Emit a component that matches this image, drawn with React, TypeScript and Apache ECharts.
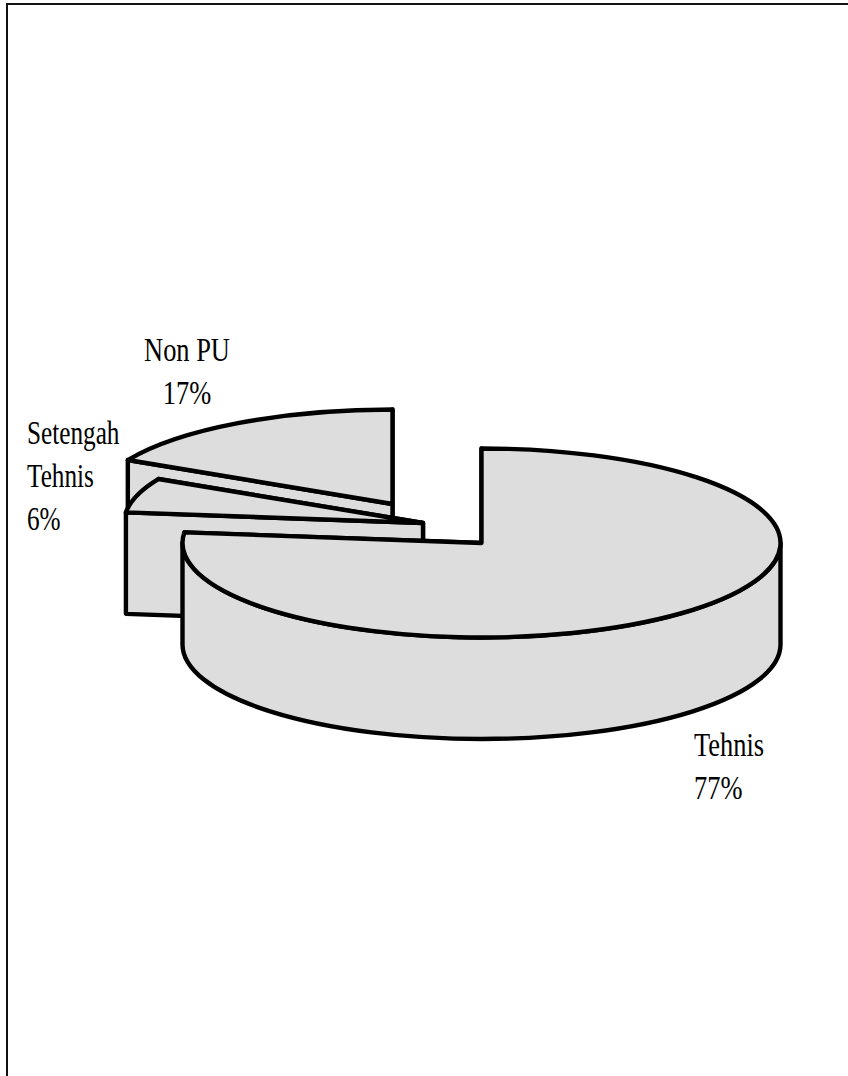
import React, { useEffect, useRef } from "react";
import * as echarts from "echarts";

const categories = ["Tehnis", "Setengah\nTehnis", "Non PU"];
const values = [76.8, 5.9, 17.3];

// Geometry of the projected pie (not data)
const RX = 299;
const RY = 94.5;
const DEPTH = 101.5;
const centers = [
  [481.5, 543],
  [423, 523],
  [392.5, 504],
];
const labelPos: { x: number; y: number; align: string; scaleX: number }[] = [
  { x: 694, y: 766, align: "left", scaleX: 0.8 },
  { x: 27, y: 476, align: "left", scaleX: 0.765 },
  { x: 187, y: 371, align: "center", scaleX: 0.8 },
];
const FILL = "#dddddd";
const INK = "#000000";
const LW = 4.4;
const FONT = '33px "Liberation Serif"';

const total = values.reduce((a, b) => a + b, 0);
const starts: number[] = [];
values.reduce((acc, v, i) => {
  starts[i] = (acc / total) * 360;
  return acc + v;
}, 0);

function pt(c: number[], deg: number, dy = 0) {
  const r = (deg * Math.PI) / 180;
  return [c[0] + RX * Math.sin(r), c[1] - RY * Math.cos(r) + dy];
}
function arc(to: number[], large: boolean, sweep: number) {
  return `A${RX} ${RY} 0 ${large ? 1 : 0} ${sweep} ${to[0]} ${to[1]}`;
}
function quad(c: number[], deg: number) {
  const a = pt(c, deg);
  const b = pt(c, deg, DEPTH);
  return `M${c[0]} ${c[1]}L${a[0]} ${a[1]}L${b[0]} ${b[1]}L${c[0]} ${c[1] + DEPTH}Z`;
}

function renderItem(_params: any, api: any) {
  const i = api.value(1) as number;
  const c = centers[i];
  const t0 = starts[i];
  const t1 = t0 + (api.value(0) / total) * 360;
  const style = { fill: FILL, stroke: INK, lineWidth: LW, lineJoin: "round" };
  const children: any[] = [];
  const add = (pathData: string) =>
    children.push({ type: "path", shape: { pathData }, style });

  add(quad(c, t1));
  add(quad(c, t0));

  const w0 = Math.max(t0, 90);
  const w1 = Math.min(t1, 270);
  if (w1 > w0) {
    const a = pt(c, w0);
    const b = pt(c, w1);
    const a2 = pt(c, w0, DEPTH);
    const b2 = pt(c, w1, DEPTH);
    add(
      `M${a[0]} ${a[1]}${arc(b, w1 - w0 > 180, 1)}L${b2[0]} ${b2[1]}${arc(a2, w1 - w0 > 180, 0)}Z`
    );
  }

  const s = pt(c, t0);
  const e = pt(c, t1);
  add(`M${c[0]} ${c[1]}L${s[0]} ${s[1]}${arc(e, t1 - t0 > 180, 1)}Z`);

  const lp = labelPos[i];
  children.push({
    type: "text",
    x: lp.x,
    y: lp.y,
    scaleX: lp.scaleX,
    style: {
      text: `${categories[i]}\n${Math.round(values[i])}%`,
      font: FONT,
      fill: INK,
      align: lp.align,
      verticalAlign: "middle",
      lineHeight: 43,
    },
  });
  return { type: "group", children };
}

export default function App() {
  const ref = useRef<HTMLDivElement>(null);
  useEffect(() => {
    const chart = echarts.init(ref.current!, null, { renderer: "svg" });
    chart.setOption({
      animation: false,
      backgroundColor: "#ffffff",
      graphic: [
        { type: "line", shape: { x1: 7, y1: 4, x2: 848, y2: 4 }, style: { stroke: "#111111", lineWidth: 2 } },
        { type: "line", shape: { x1: 7, y1: 3, x2: 7, y2: 1076 }, style: { stroke: "#111111", lineWidth: 2 } },
      ],
      series: [
        {
          type: "custom",
          coordinateSystem: "none",
          silent: true,
          renderItem,
          // painted back to front
          data: [2, 1, 0].map((i) => [values[i], i]),
        },
      ],
    });
    return () => chart.dispose();
  }, []);
  return (
    <div
      ref={ref}
      style={{ position: "absolute", left: 0, top: 0, width: 848, height: 1076 }}
    />
  );
}
